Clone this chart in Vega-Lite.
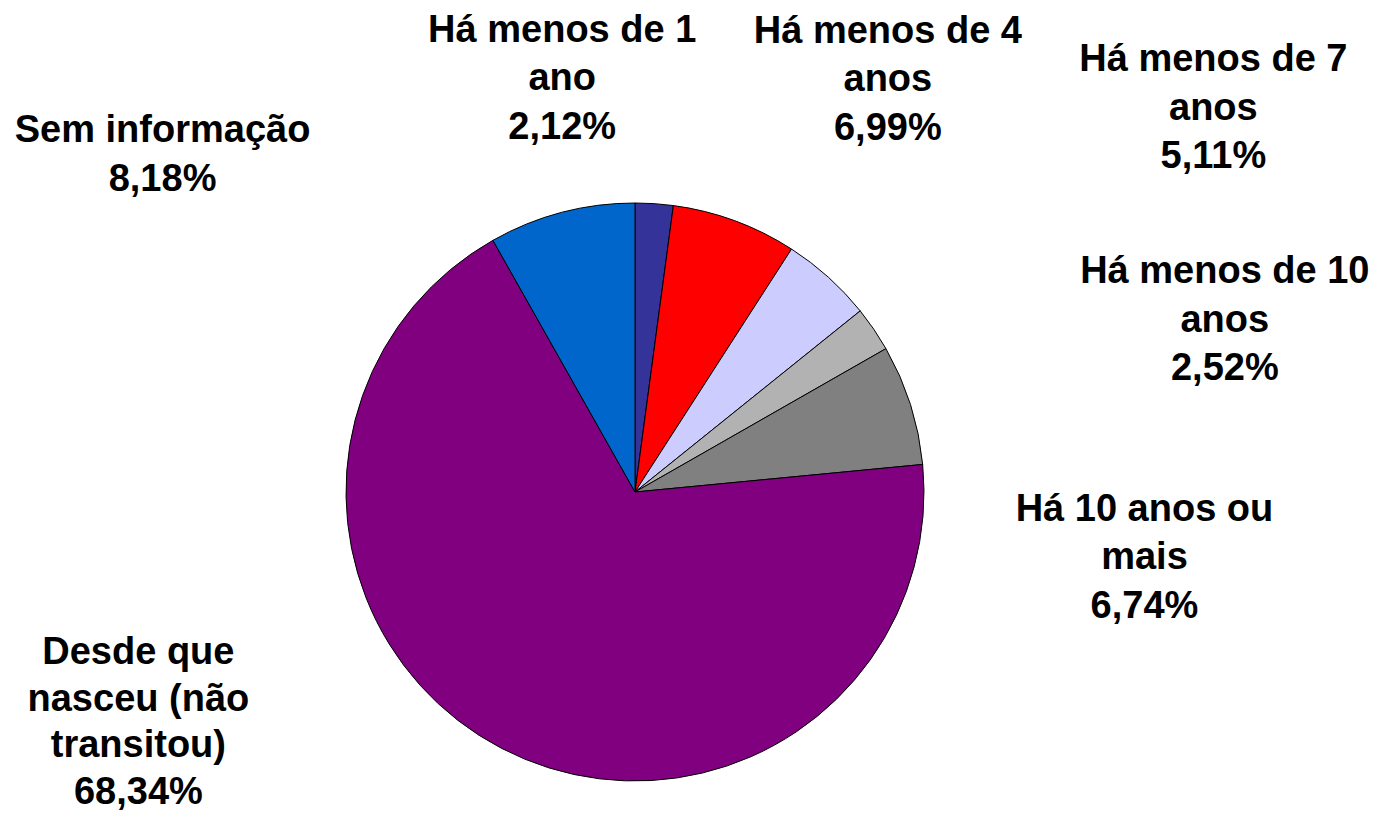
{
  "$schema": "https://vega.github.io/schema/vega-lite/v6.json",
  "width": 578,
  "height": 578,
  "autosize": {"type": "none"},
  "padding": {"left": 346, "top": 203, "right": 451, "bottom": 38},
  "background": "white",
  "config": {"view": {"stroke": null}},
  "data": {
    "values": [
      {"order": 1, "category": "Há menos de 1 ano", "value": 2.12, "label": "Há menos de 1\nano\n2,12%"},
      {"order": 2, "category": "Há menos de 4 anos", "value": 6.99, "label": "Há menos de 4\nanos\n6,99%"},
      {"order": 3, "category": "Há menos de 7 anos", "value": 5.11, "label": "Há menos de 7\nanos\n5,11%"},
      {"order": 4, "category": "Há menos de 10 anos", "value": 2.52, "label": "Há menos de 10\nanos\n2,52%"},
      {"order": 5, "category": "Há 10 anos ou mais", "value": 6.74, "label": "Há 10 anos ou\nmais\n6,74%"},
      {"order": 6, "category": "Desde que nasceu (não transitou)", "value": 68.34, "label": "Desde que\nnasceu (não\ntransitou)\n68,34%"},
      {"order": 7, "category": "Sem informação", "value": 8.18, "label": "Sem informação\n8,18%"}
    ]
  },
  "encoding": {
    "theta": {"field": "value", "type": "quantitative", "stack": true},
    "order": {"field": "order", "type": "quantitative"}
  },
  "layer": [
    {
      "mark": {"type": "arc", "stroke": "black", "strokeWidth": 1},
      "encoding": {
        "color": {
          "field": "category",
          "type": "nominal",
          "scale": {
            "domain": ["Há menos de 1 ano", "Há menos de 4 anos", "Há menos de 7 anos", "Há menos de 10 anos", "Há 10 anos ou mais", "Desde que nasceu (não transitou)", "Sem informação"],
            "range": ["#333399", "#FF0000", "#CCCCFF", "#B2B2B2", "#808080", "#800080", "#0066CC"]
          },
          "legend": null
        }
      }
    },
    {
      "mark": {"type": "text", "font": "Liberation Sans", "fontWeight": "bold", "fontSize": 38, "lineBreak": "\n", "lineHeight": 48.5, "align": "center", "baseline": "middle", "color": "black", "dx": -92, "dy": -173},
      "encoding": {"radius": {"value": 289}, "text": {"condition": {"test": "datum.order === 1", "field": "label", "type": "nominal"}, "value": ""}}
    },
    {
      "mark": {"type": "text", "font": "Liberation Sans", "fontWeight": "bold", "fontSize": 38, "lineBreak": "\n", "lineHeight": 48.5, "align": "center", "baseline": "middle", "color": "black", "dx": 153, "dy": -189},
      "encoding": {"radius": {"value": 289}, "text": {"condition": {"test": "datum.order === 2", "field": "label", "type": "nominal"}, "value": ""}}
    },
    {
      "mark": {"type": "text", "font": "Liberation Sans", "fontWeight": "bold", "fontSize": 38, "lineBreak": "\n", "lineHeight": 48.5, "align": "center", "baseline": "middle", "color": "black", "dx": 385, "dy": -217},
      "encoding": {"radius": {"value": 289}, "text": {"condition": {"test": "datum.order === 3", "field": "label", "type": "nominal"}, "value": ""}}
    },
    {
      "mark": {"type": "text", "font": "Liberation Sans", "fontWeight": "bold", "fontSize": 38, "lineBreak": "\n", "lineHeight": 48.5, "align": "center", "baseline": "middle", "color": "black", "dx": 351, "dy": -57},
      "encoding": {"radius": {"value": 289}, "text": {"condition": {"test": "datum.order === 4", "field": "label", "type": "nominal"}, "value": ""}}
    },
    {
      "mark": {"type": "text", "font": "Liberation Sans", "fontWeight": "bold", "fontSize": 38, "lineBreak": "\n", "lineHeight": 48.5, "align": "center", "baseline": "middle", "color": "black", "dx": 234, "dy": 105},
      "encoding": {"radius": {"value": 289}, "text": {"condition": {"test": "datum.order === 5", "field": "label", "type": "nominal"}, "value": ""}}
    },
    {
      "mark": {"type": "text", "font": "Liberation Sans", "fontWeight": "bold", "fontSize": 38, "lineBreak": "\n", "lineHeight": 46.5, "align": "center", "baseline": "middle", "color": "black", "dx": -363, "dy": -95},
      "encoding": {"radius": {"value": 289}, "text": {"condition": {"test": "datum.order === 6", "field": "label", "type": "nominal"}, "value": ""}}
    },
    {
      "mark": {"type": "text", "font": "Liberation Sans", "fontWeight": "bold", "fontSize": 38, "lineBreak": "\n", "lineHeight": 49, "align": "center", "baseline": "middle", "color": "black", "dx": -399, "dy": -81},
      "encoding": {"radius": {"value": 289}, "text": {"condition": {"test": "datum.order === 7", "field": "label", "type": "nominal"}, "value": ""}}
    }
  ]
}
